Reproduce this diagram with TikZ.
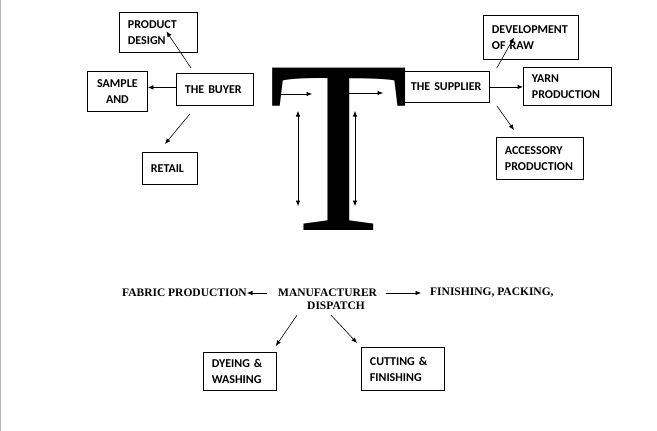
\documentclass[tikz,border=0pt]{standalone}
\usepackage{fontspec}
\usepackage{graphicx}
\usetikzlibrary{arrows.meta,calc}
\newfontfamily\boxfont{Carlito}
\newfontfamily\timesfont{Liberation Serif}
\hyphenpenalty=10000
\begin{document}
\begin{tikzpicture}[x=1pt, y=-1pt,
  box/.style={draw=black, line width=0.8pt, anchor=north west, align=left, inner xsep=8.5pt, inner ysep=0pt, font=\boxfont\bfseries\fontsize{12}{16}\selectfont},
  flow/.style={inner sep=0pt, font=\timesfont\bfseries\fontsize{11.5}{13}\selectfont},
  arr/.style={-{Latex[length=5.5pt,width=4.5pt]}, line width=0.6pt},
  darr/.style={{Latex[length=5.5pt,width=4.5pt]}-{Latex[length=5.5pt,width=4.5pt]}, line width=0.6pt}]
\useasboundingbox (0,0) rectangle (657,431);
\draw[gray!60, line width=1.2pt] (0.6,0) -- (0.6,431);
\node[inner sep=0pt, anchor=base west] (bigT) at (268,230) {\fontsize{248}{248}\selectfont\timesfont\scalebox{0.93}[1]{T}};
\node[box, text width=61pt, minimum height=40pt] (design) at (119,12) {PRODUCT\\DESIGN};
\node[box, text width=43pt, minimum height=40pt, align=center] (sample) at (87,71) {SAMPLE\\AND};
\node[box, text width=60pt, minimum height=32pt] (buyer) at (176,73) {THE~BUYER};
\node[box, text width=38pt, minimum height=32pt] (retail) at (142,152) {RETAIL};
\node[box, text width=70pt, minimum height=31pt] (supplier) at (402,71) {THE~SUPPLIER};
\node[box, text width=78pt, minimum height=44pt] (raw) at (483,15) {DEVELOPMENT\\OF RAW};
\node[box, text width=71pt, minimum height=38pt] (yarn) at (523,67) {YARN\\PRODUCTION};
\node[box, text width=70pt, minimum height=42pt] (accessory) at (496,137) {ACCESSORY\\PRODUCTION};
\node[box, text width=56pt, minimum height=38pt] (dyeing) at (203,352) {DYEING \&\\WASHING};
\node[box, text width=66pt, minimum height=43pt] (cutting) at (361,347) {CUTTING \&\\FINISHING};
\node[flow, anchor=north west, align=left] (maker) at (278,289) {MANUFACTURER\\\hspace*{29pt}DISPATCH};
\node[flow, anchor=east] (fabric) at (247,293) {FABRIC PRODUCTION};
\node[flow, anchor=west] (finishing) at (430,293) {FINISHING, PACKING,};
\draw[arr] ($(buyer.north west)+(15,-5)$) -- ($(design.center)+(8,-1)$);
\draw[arr] ([yshift=2pt]buyer.west) -- ([yshift=4pt]sample.east);
\draw[arr] ($(buyer.south west)+(14,8)$) -- ($(retail.north west)+(23,-8)$);
\draw[arr] ($(supplier.north east)+(7,-3)$) -- ($(raw.west)+(31,0)$);
\draw[arr] (supplier.east) -- (supplier.east -| yarn.west);
\draw[arr] ($(supplier.south east)+(7,3)$) -- ($(accessory.north west)+(18,-7)$);
\draw[arr] ($(bigT.base west)+(7,-136)$) -- ($(bigT.base west)+(44,-136)$);
\draw[arr] ($(bigT.base west)+(80,-137)$) -- ($(bigT.base west)+(115,-137)$);
\draw[darr] ($(bigT.base west)+(30,-119)$) -- ($(bigT.base west)+(30,-24)$);
\draw[darr] ($(bigT.base west)+(87,-119)$) -- ($(bigT.base west)+(87,-24)$);
\draw[arr] ($(maker.north west)+(-11,4)$) -- (fabric.east);
\draw[arr] ($(maker.north east)+(9,4)$) -- ($(finishing.west)+(-9,0)$);
\draw[arr] ($(maker.south west)+(19,5)$) -- ($(dyeing.north east)+(-1,-6)$);
\draw[arr] ($(maker.south west)+(53,5)$) -- ($(cutting.north west)+(-4,-4)$);
\end{tikzpicture}
\end{document}
